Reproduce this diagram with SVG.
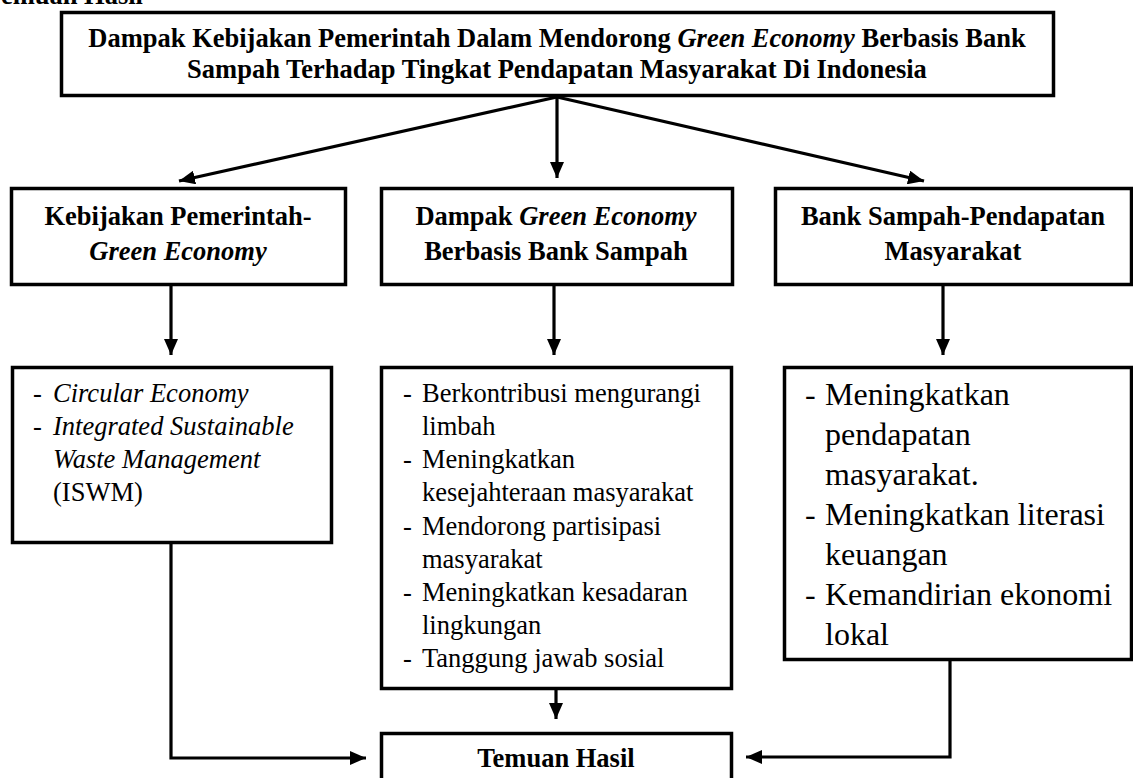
<svg xmlns="http://www.w3.org/2000/svg" width="1133" height="778" viewBox="0 0 1133 778">
<style>
text{font-family:"Liberation Serif","Times New Roman",serif;fill:#000}
.b{font-weight:bold;font-size:26.5px}
.r{font-size:26.5px}
.big{font-size:32px}
.i{font-style:italic}
.box{fill:#fff;stroke:#000;stroke-width:3.5}
.ln{fill:none;stroke:#000;stroke-width:3.2}
</style>
<defs>
<marker id="ah" viewBox="0 0 16 14" refX="16" refY="7" markerWidth="16" markerHeight="14" markerUnits="userSpaceOnUse" orient="auto">
<path d="M0,0 L16,7 L0,14 z" fill="#000"/>
</marker>
</defs>
<text class="b" x="143" y="4" text-anchor="end">Temuan Hasil</text>
<g id="connectors">
<line class="ln" x1="557" y1="97" x2="557" y2="178" marker-end="url(#ah)"/>
<line class="ln" x1="557" y1="97" x2="179" y2="181" marker-end="url(#ah)"/>
<line class="ln" x1="557" y1="97" x2="924" y2="181" marker-end="url(#ah)"/>
<line class="ln" x1="171" y1="285" x2="171" y2="355" marker-end="url(#ah)"/>
<line class="ln" x1="554" y1="285" x2="554" y2="355" marker-end="url(#ah)"/>
<line class="ln" x1="943" y1="285" x2="943" y2="355" marker-end="url(#ah)"/>
<path class="ln" d="M171,543 V758 H366" marker-end="url(#ah)"/>
<line class="ln" x1="556" y1="690" x2="556" y2="719" marker-end="url(#ah)"/>
<path class="ln" d="M950,660 V757 H746" marker-end="url(#ah)"/>
</g>
<g id="title">
<rect class="box" x="61.5" y="12.5" width="992" height="83"/>
<text class="b" x="557" y="47" text-anchor="middle">Dampak Kebijakan Pemerintah Dalam Mendorong <tspan class="i">Green Economy</tspan> Berbasis Bank</text>
<text class="b" x="557" y="78" text-anchor="middle">Sampah Terhadap Tingkat Pendapatan Masyarakat Di Indonesia</text>
</g>
<g id="kebijakan">
<rect class="box" x="11.5" y="188.5" width="334" height="96"/>
<text class="b" x="178" y="225" text-anchor="middle">Kebijakan Pemerintah-</text>
<text class="b i" x="178" y="260" text-anchor="middle">Green Economy</text>
</g>
<g id="dampak">
<rect class="box" x="381.5" y="188.5" width="351" height="96"/>
<text class="b" x="556" y="225" text-anchor="middle">Dampak <tspan class="i">Green Economy</tspan></text>
<text class="b" x="556" y="260" text-anchor="middle">Berbasis Bank Sampah</text>
</g>
<g id="banksampah">
<rect class="box" x="775.5" y="188.5" width="356" height="96"/>
<text class="b" x="953" y="225" text-anchor="middle">Bank Sampah-Pendapatan</text>
<text class="b" x="953" y="260" text-anchor="middle">Masyarakat</text>
</g>
<g id="kebijakan-detail">
<rect class="box" x="12.5" y="367.5" width="319" height="175"/>
<text class="r" x="33" y="402">-</text>
<text class="r i" x="53" y="402">Circular Economy</text>
<text class="r" x="33" y="435">-</text>
<text class="r i" x="53" y="435">Integrated Sustainable</text>
<text class="r i" x="53" y="468">Waste Management</text>
<text class="r" x="53" y="501">(ISWM)</text>
</g>
<g id="dampak-detail">
<rect class="box" x="381.5" y="367.5" width="350" height="321"/>
<text class="r" x="403" y="402">-</text>
<text class="r" x="422" y="402">Berkontribusi mengurangi</text>
<text class="r" x="422" y="435">limbah</text>
<text class="r" x="403" y="468">-</text>
<text class="r" x="422" y="468">Meningkatkan</text>
<text class="r" x="422" y="501">kesejahteraan masyarakat</text>
<text class="r" x="403" y="535">-</text>
<text class="r" x="422" y="535">Mendorong partisipasi</text>
<text class="r" x="422" y="568">masyarakat</text>
<text class="r" x="403" y="601">-</text>
<text class="r" x="422" y="601">Meningkatkan kesadaran</text>
<text class="r" x="422" y="634">lingkungan</text>
<text class="r" x="403" y="667">-</text>
<text class="r" x="422" y="667">Tanggung jawab sosial</text>
</g>
<g id="banksampah-detail">
<rect class="box" x="784.5" y="367.5" width="347" height="292"/>
<text class="big" x="805" y="405">-</text>
<text class="big" x="825" y="405">Meningkatkan</text>
<text class="big" x="825" y="445">pendapatan</text>
<text class="big" x="825" y="485">masyarakat.</text>
<text class="big" x="805" y="525">-</text>
<text class="big" x="825" y="525">Meningkatkan literasi</text>
<text class="big" x="825" y="565">keuangan</text>
<text class="big" x="805" y="605">-</text>
<text class="big" x="825" y="605">Kemandirian ekonomi</text>
<text class="big" x="825" y="645">lokal</text>
</g>
<g id="temuan">
<rect class="box" x="381.5" y="733.5" width="350" height="60"/>
<text class="b" x="556" y="767" text-anchor="middle">Temuan Hasil</text>
</g>
</svg>
